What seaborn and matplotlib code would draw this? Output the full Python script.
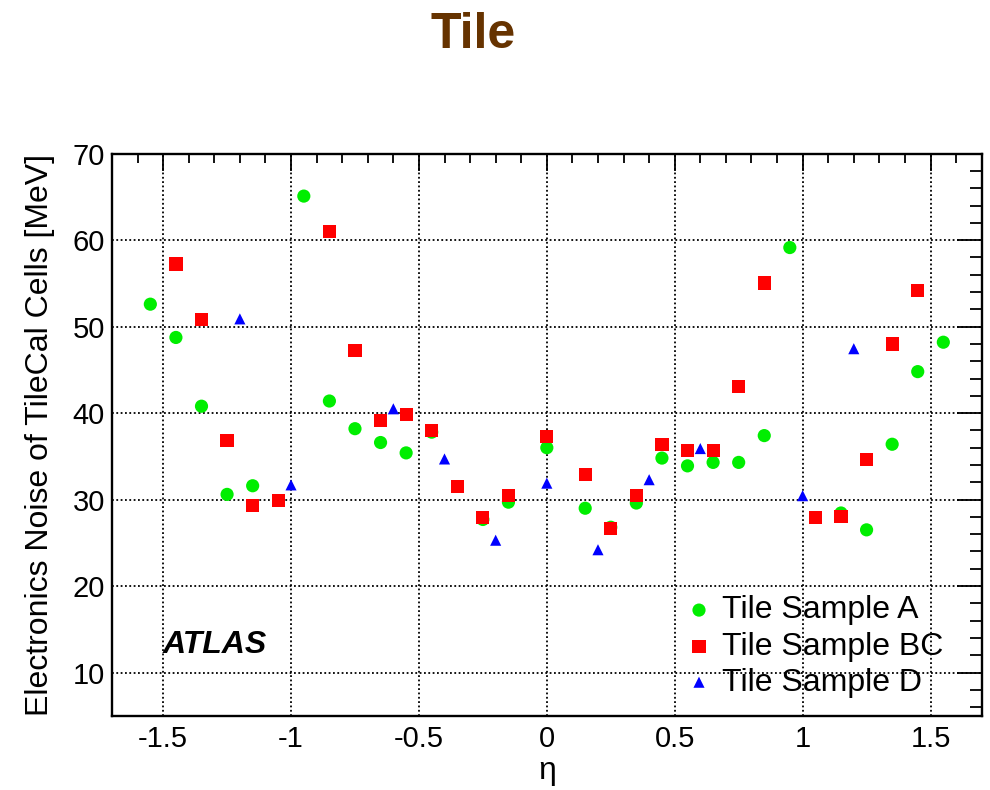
import matplotlib
matplotlib.use("Agg")
import matplotlib.pyplot as plt
from matplotlib.ticker import MultipleLocator
import seaborn as sns
import pandas as pd

# Electronics noise per TileCal cell layer versus pseudorapidity
eta_A = [-1.55, -1.45, -1.35, -1.25, -1.15, -0.95, -0.85, -0.75, -0.65, -0.55,
         -0.45, -0.25, -0.15, 0.0, 0.15, 0.25, 0.35, 0.45, 0.55, 0.65,
         0.75, 0.85, 0.95, 1.15, 1.25, 1.35, 1.45, 1.55]
noise_A = [52.6, 48.75, 40.8, 30.6, 31.6, 65.1, 41.4, 38.2, 36.6, 35.4,
           37.8, 27.7, 29.7, 36.0, 29.0, 26.8, 29.6, 34.8, 33.9, 34.3,
           34.3, 37.4, 59.15, 28.45, 26.5, 36.4, 44.8, 48.2]

eta_BC = [-1.45, -1.35, -1.25, -1.15, -1.05, -0.85, -0.75, -0.65, -0.55, -0.45,
          -0.35, -0.25, -0.15, 0.0, 0.15, 0.25, 0.35, 0.45, 0.55, 0.65,
          0.75, 0.85, 1.05, 1.15, 1.25, 1.35, 1.45]
noise_BC = [57.25, 50.8, 36.8, 29.3, 29.9, 61.0, 47.25, 39.1, 39.8, 38.0,
            31.5, 27.9, 30.45, 37.3, 32.9, 26.7, 30.45, 36.4, 35.7, 35.7,
            43.1, 55.05, 27.9, 28.05, 34.6, 48.0, 54.2]

eta_D = [-1.2, -1.0, -0.6, -0.4, -0.2, 0.0, 0.2, 0.4, 0.6, 1.0, 1.2]
noise_D = [50.9, 31.7, 40.5, 34.7, 25.3, 31.9, 24.2, 32.3, 35.9, 30.45, 47.45]

series_labels = ["Tile Sample A", "Tile Sample BC", "Tile Sample D"]
x_ticks = [-1.5, -1, -0.5, 0, 0.5, 1, 1.5]
x_tick_labels = ["-1.5", "-1", "-0.5", "0", "0.5", "1", "1.5"]
y_ticks = [10, 20, 30, 40, 50, 60, 70]

sns.set_theme(style="white")
plt.rcParams["font.family"] = ["Liberation Sans", "DejaVu Sans"]
plt.rcParams["axes.unicode_minus"] = False
plt.rcParams["text.color"] = "black"
plt.rcParams["axes.labelcolor"] = "black"
plt.rcParams["xtick.color"] = "black"
plt.rcParams["ytick.color"] = "black"

fig = plt.figure(figsize=(9.9, 7.9), dpi=100)
ax = fig.add_axes([0.1131, 0.0940, 0.8785, 0.7114])

df_A = pd.DataFrame({"eta": eta_A, "noise": noise_A})
df_BC = pd.DataFrame({"eta": eta_BC, "noise": noise_BC})
df_D = pd.DataFrame({"eta": eta_D, "noise": noise_D})

sns.scatterplot(data=df_A, x="eta", y="noise", ax=ax, marker="o", s=90,
                color="#00ee00", edgecolor="none", label=series_labels[0], zorder=3)
sns.scatterplot(data=df_BC, x="eta", y="noise", ax=ax, marker="s", s=90,
                color="#ff0000", edgecolor="none", label=series_labels[1], zorder=4)
sns.scatterplot(data=df_D, x="eta", y="noise", ax=ax, marker="^", s=64,
                color="#0000ff", edgecolor="none", label=series_labels[2], zorder=5)

ax.set_xlim(-1.7, 1.7)
ax.set_ylim(5, 70)
ax.set_xticks(x_ticks)
ax.set_xticklabels(x_tick_labels)
ax.set_yticks(y_ticks)
ax.xaxis.set_minor_locator(MultipleLocator(0.1))
ax.yaxis.set_minor_locator(MultipleLocator(2))

ax.tick_params(axis="both", which="both", direction="in", top=True, right=True,
               width=1.3, colors="black", labelcolor="black", labelsize=21)
ax.tick_params(axis="x", which="major", length=12.2, pad=7)
ax.tick_params(axis="x", which="minor", length=6.8)
ax.tick_params(axis="y", which="major", length=18, pad=5)
ax.tick_params(axis="y", which="minor", length=9)

for sp in ax.spines.values():
    sp.set_linewidth(1.7)
    sp.set_color("black")

ax.set_axisbelow(True)
ax.grid(True, which="major", color="black", linestyle=(0, (1, 1.4)), linewidth=1.3)

ax.set_xlabel("η", fontsize=23, labelpad=2, color="black")
ax.set_ylabel("Electronics Noise of TileCal Cells [MeV]", fontsize=23,
              labelpad=13, color="black")

ax.text(-1.5, 12.3, "ATLAS", fontsize=23, fontweight="bold", fontstyle="italic",
        ha="left", va="baseline", color="black")

leg = ax.legend(loc="upper left", bbox_to_anchor=(0.6566, 0.214), frameon=False,
                fontsize=23, handlelength=1.0, handletextpad=0.22,
                labelspacing=0.19, borderpad=0.0, borderaxespad=0.0)
for txt in leg.get_texts():
    txt.set_color("black")

fig.text(0.4775, 0.939, "Tile", fontsize=36, fontweight="bold", color="#663300",
         ha="center", va="baseline")

fig.savefig("out.png", dpi=100, facecolor="white")
